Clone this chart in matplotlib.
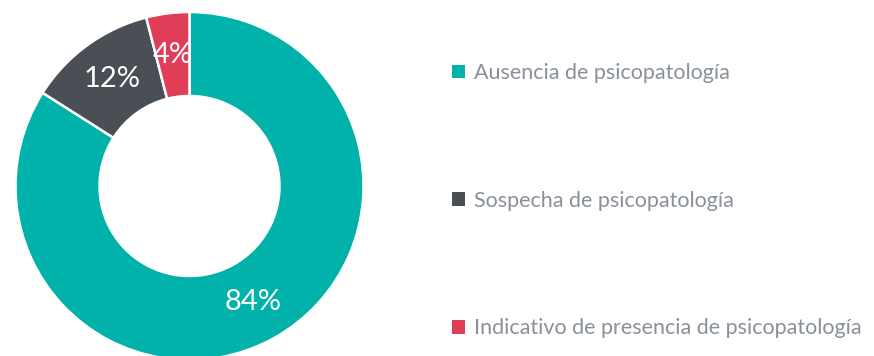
import matplotlib
matplotlib.use("Agg")
import matplotlib.pyplot as plt
from matplotlib.patches import Patch

categories = ["Ausencia de psicopatología",
              "Sospecha de psicopatología",
              "Indicativo de presencia de psicopatología"]
values = [84, 12, 4]
colors = ["#00B2A9", "#4A4E55", "#E03D58"]

plt.rcParams["font.family"] = ["Lato", "DejaVu Sans"]

W, H = 874, 356
fig = plt.figure(figsize=(W / 100, H / 100), dpi=100)

# donut: centre (189.5, 186) px, outer radius 174 px, inner radius 90 px
cx, cy, R, r_in = 189.5, 186.0, 174.0, 90.0
ax = fig.add_axes([(cx - R) / W, (H - cy - R) / H, 2 * R / W, 2 * R / H])
ring = (R - r_in) / R
wedges, _, autotexts = ax.pie(
    values, colors=colors, startangle=90, counterclock=False,
    radius=1.0, autopct=lambda p: f"{p:.0f}%",
    pctdistance=1 - ring / 2,
    wedgeprops=dict(width=ring, edgecolor="white", linewidth=1.8),
    textprops=dict(color="white", fontsize=21),
)
ax.set_xlim(-1, 1)
ax.set_ylim(-1, 1)
ax.set_aspect("equal")

handles = [Patch(facecolor=c, edgecolor="none") for c in colors]
fig.legend(handles, categories, loc="upper left",
           bbox_to_anchor=(452 / W, 1 - 63 / H), frameon=False,
           fontsize=15.5, labelcolor="#8A9099", handlelength=0.6,
           handleheight=0.6, handletextpad=0.4, labelspacing=5.0,
           borderpad=0, borderaxespad=0)

fig.savefig("out.png", dpi=100, facecolor="white")
